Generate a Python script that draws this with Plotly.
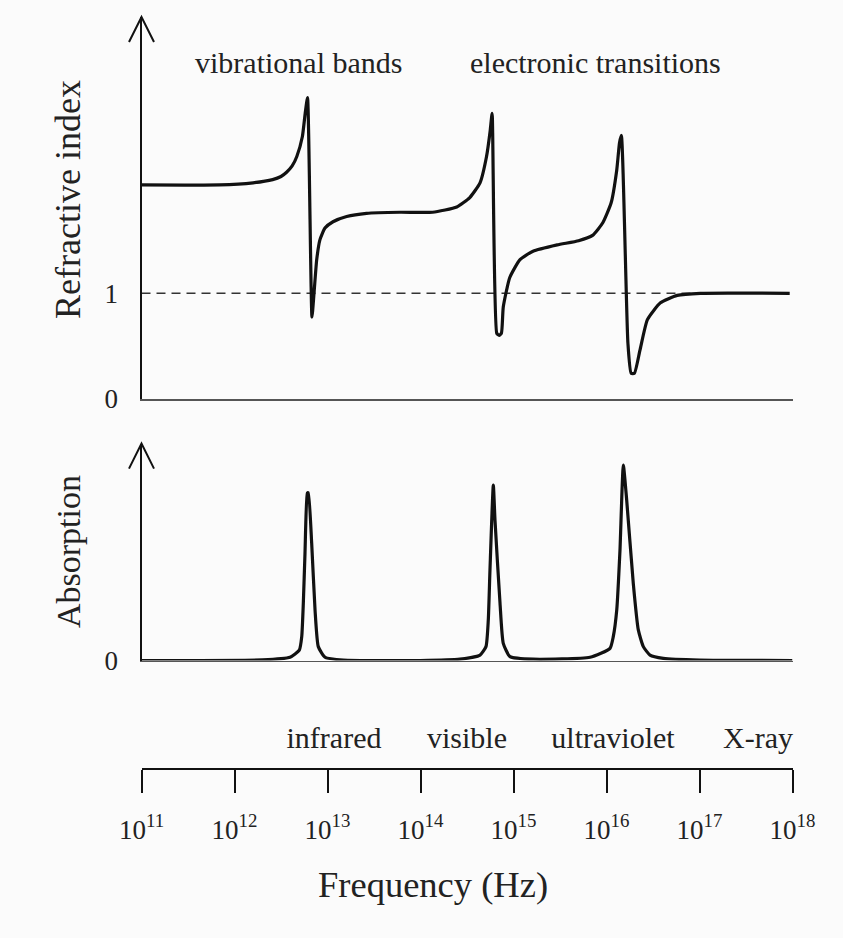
import plotly.graph_objects as go

# ---------------- data (log10 of frequency in Hz) ----------------
n_logf = [11.00, 11.84, 12.20, 12.41, 12.50, 12.56, 12.62, 12.67, 12.73, 12.76, 12.785,
          12.833, 12.855, 12.884, 12.919, 12.973, 13.059, 13.206, 13.42, 13.78, 14.13,
          14.39, 14.53, 14.64, 14.71, 14.75, 14.77, 14.82, 14.845, 14.87, 14.89, 14.96,
          15.07, 15.21, 15.47, 15.70, 15.85, 15.96, 16.05, 16.11, 16.14, 16.16, 16.23,
          16.265, 16.30, 16.36, 16.44, 16.58, 16.76, 17.01, 17.97]
n_vals = [2.03, 2.03, 2.05, 2.08, 2.11, 2.15, 2.21, 2.30, 2.49, 2.71, 2.86,
          0.775, 1.00, 1.32, 1.51, 1.62, 1.68, 1.73, 1.76, 1.77, 1.77,
          1.82, 1.91, 2.05, 2.30, 2.55, 2.71, 0.62, 0.60, 0.62, 0.87, 1.15,
          1.32, 1.40, 1.46, 1.50, 1.55, 1.67, 1.86, 2.17, 2.43, 2.50, 0.53,
          0.24, 0.24, 0.46, 0.75, 0.91, 0.98, 1.00, 1.00]

a_logf = [11.00, 12.30, 12.597, 12.697, 12.723, 12.740, 12.758, 12.783, 12.794, 12.830,
          12.866, 12.901, 12.973, 13.170, 14.000, 14.425, 14.640, 14.704, 14.729, 14.747,
          14.783, 14.801, 14.855, 14.890, 14.962, 15.213, 15.823, 16.038, 16.073, 16.110,
          16.145, 16.181, 16.217, 16.288, 16.342, 16.396, 16.468, 16.611, 17.00, 18.00]
a_vals = [0.000, 0.003, 0.015, 0.048, 0.110, 0.264, 0.494, 0.771, 0.773, 0.540,
          0.233, 0.064, 0.015, 0.002, 0.000, 0.006, 0.025, 0.064, 0.187, 0.417,
          0.809, 0.647, 0.264, 0.079, 0.018, 0.006, 0.015, 0.056, 0.110, 0.232,
          0.509, 0.901, 0.740, 0.356, 0.141, 0.064, 0.025, 0.010, 0.002, 0.000]

ref_line = [1.0, 1.0]
ref_line_x = [11.0, 16.98]

decades = [11, 12, 13, 14, 15, 16, 17, 18]
decade_text = ["10<sup>%d</sup>" % d for d in decades]

bands = ["infrared", "visible", "ultraviolet", "X-ray"]
band_logf = [13.07, 14.50, 16.07, 17.63]

FONT = "Liberation Serif, Times New Roman, serif"
INK = "#111111"
TXT = "#222222"
BG = "#fbfbfb"

W, H = 843, 938
x_dom = [141.5 / W, 792.5 / W]
y1_dom = [(H - 398.5) / H, (H - 17) / H]
y2_dom = [(H - 660.5) / H, (H - 443.6) / H]
y3_dom = [(H - 768) / H, (H - 718) / H]

fig = go.Figure()

fig.add_trace(go.Scatter(x=ref_line_x, y=ref_line, mode="lines",
                         line=dict(color="#333333", width=1.5, dash="9px,6px"),
                         xaxis="x", yaxis="y", hoverinfo="skip"))
fig.add_trace(go.Scatter(x=n_logf, y=n_vals, mode="lines",
                         line=dict(color=INK, width=3.2, shape="spline", smoothing=0.5),
                         xaxis="x", yaxis="y"))
fig.add_trace(go.Scatter(x=a_logf, y=a_vals, mode="lines",
                         line=dict(color=INK, width=3.2, shape="spline", smoothing=0.5),
                         xaxis="x2", yaxis="y2"))
fig.add_trace(go.Scatter(x=band_logf, y=[0.55] * len(bands), mode="text", text=bands,
                         textfont=dict(family=FONT, size=30, color=TXT),
                         xaxis="x3", yaxis="y3", cliponaxis=False, hoverinfo="skip"))

common_x = dict(domain=x_dom, range=[11, 18], showgrid=False, zeroline=False,
                automargin=False)

fig.update_layout(
    template="none",
    width=W, height=H, margin=dict(l=0, r=0, t=0, b=0, autoexpand=False),
    paper_bgcolor=BG, plot_bgcolor=BG, showlegend=False,
    font=dict(family=FONT, color=TXT),
    xaxis=dict(**common_x, anchor="y", showline=True, linecolor="#555555", linewidth=1.5,
               ticks="", showticklabels=False),
    yaxis=dict(domain=y1_dom, range=[0, 3.626], anchor="x", showgrid=False, zeroline=False,
               automargin=False,
               showline=True, linecolor=INK, linewidth=2, ticks="",
               tickvals=[0, 1], ticktext=["0", "1"], ticklabelstandoff=16,
               tickfont=dict(family=FONT, size=27, color=TXT)),
    xaxis2=dict(**common_x, anchor="y2", showline=True, linecolor="#555555", linewidth=1.2,
                ticks="", showticklabels=False),
    yaxis2=dict(domain=y2_dom, range=[0, 1.0], anchor="x2", showgrid=False, zeroline=False,
                automargin=False,
                showline=True, linecolor=INK, linewidth=2, ticks="",
                tickvals=[0], ticktext=["0"], ticklabelstandoff=16,
                tickfont=dict(family=FONT, size=27, color=TXT)),
    xaxis3=dict(**common_x, anchor="y3", side="bottom", showline=True, linecolor=INK,
                linewidth=2.2, ticks="outside", ticklen=23, tickwidth=2.2, tickcolor=INK,
                tickvals=decades, ticktext=decade_text, ticklabelstandoff=13,
                tickfont=dict(family=FONT, size=27, color=TXT)),
    yaxis3=dict(domain=y3_dom, range=[0, 1], anchor="x3", visible=False, automargin=False),
)

# open arrowheads on the two vertical axes
for ytop in (y1_dom[1], y2_dom[1]):
    fig.add_shape(type="path", xref="paper", yref="paper",
                  xsizemode="pixel", ysizemode="pixel",
                  xanchor=x_dom[0], yanchor=ytop,
                  path="M-12.5,-25 L0,0 L12.5,-25",
                  line=dict(color=INK, width=2))

annos = [
    dict(text="Refractive index", x=68 / W, y=(H - 200) / H, textangle=-90, size=36),
    dict(text="Absorption", x=68 / W, y=(H - 552) / H, textangle=-90, size=34),
    dict(text="vibrational bands", x=298 / W, y=(H - 62) / H, textangle=0, size=30),
    dict(text="electronic transitions", x=595 / W, y=(H - 62) / H, textangle=0, size=30),
    dict(text="Frequency (Hz)", x=433.5 / W, y=(H - 884) / H, textangle=0, size=36.5),
]
for a in annos:
    fig.add_annotation(text=a["text"], x=a["x"], y=a["y"], xref="paper", yref="paper",
                       xanchor="center", yanchor="middle", showarrow=False,
                       textangle=a["textangle"],
                       font=dict(family=FONT, size=a["size"], color=TXT))

fig.write_html("out.html")
